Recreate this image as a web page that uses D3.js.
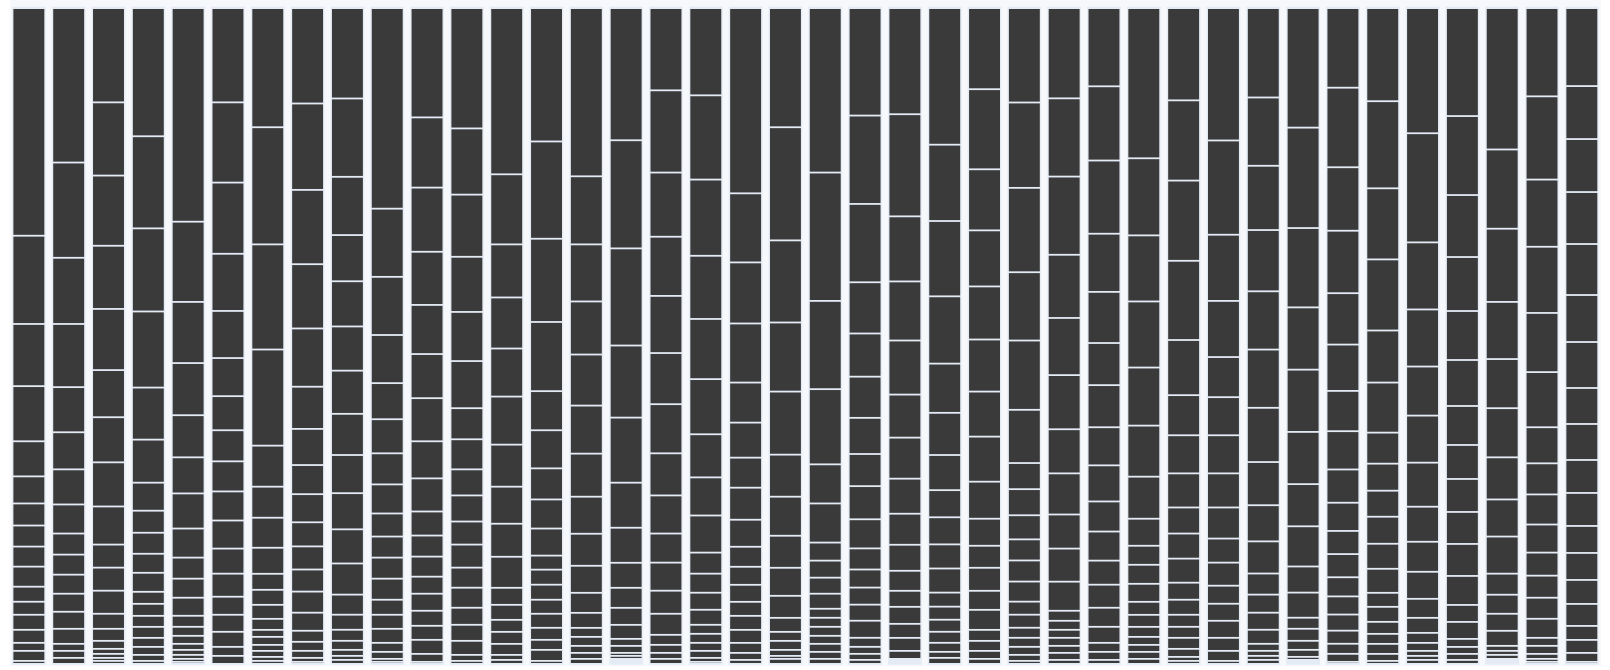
<!DOCTYPE html>
<html>
<head>
<meta charset="utf-8">
<script src="https://cdn.jsdelivr.net/npm/d3@7"></script>
<style>
html,body{margin:0;padding:0;background:#ffffff;overflow:hidden}
svg{display:block}
</style>
</head>
<body>
<svg id="chart" width="1610" height="670"></svg>
<script>
// Categories (one per column)
const categories = d3.range(1, 41).map(i => "Group " + i);

// Segment values per column, listed top to bottom
const g01 = [227, 88, 62, 55, 35, 27, 22, 21, 20, 20, 15, 13, 15, 13, 8, 10, 3];
const g02 = [154, 95, 66, 63, 45, 37, 35, 29, 21, 20, 19, 18, 17, 15, 7, 7, 6];
const g03 = [94, 73, 70, 63, 61, 47, 45, 44, 38, 23, 23, 23, 15, 12, 8, 5, 4, 3, 3];
const g04 = [128, 92, 83, 76, 52, 43, 28, 22, 21, 19, 19, 12, 12, 11, 11, 9, 8, 6, 3];
const g05 = [213, 80, 61, 52, 42, 36, 35, 29, 21, 19, 18, 11, 9, 8, 6, 5, 4, 3, 2];
const g06 = [94, 80, 71, 57, 47, 38, 34, 31, 30, 29, 28, 25, 23, 18, 17, 15, 9, 8];
const g07 = [119, 117, 105, 96, 41, 31, 30, 26, 16, 15, 14, 11, 7, 8, 6, 6, 4, 3];
const g08 = [95, 86, 74, 64, 58, 42, 36, 29, 28, 24, 23, 22, 21, 18, 11, 9, 7, 4, 2];
const g09 = [90, 78, 58, 46, 45, 44, 43, 41, 38, 36, 34, 31, 20, 15, 11, 9, 6, 4, 4];
const g10 = [200, 68, 58, 48, 36, 34, 31, 29, 23, 21, 21, 21, 15, 14, 14, 9, 7, 3, 2];
const g11 = [109, 70, 64, 53, 49, 44, 43, 37, 33, 24, 21, 20, 17, 17, 15, 14, 14, 8, 2];
const g12 = [120, 66, 62, 55, 49, 47, 31, 30, 26, 26, 23, 23, 20, 20, 17, 16, 14, 6, 3];
const g13 = [166, 70, 53, 51, 48, 48, 42, 37, 33, 31, 17, 15, 12, 12, 11, 5, 4];
const g14 = [133, 97, 83, 69, 39, 38, 31, 29, 27, 14, 15, 15, 14, 14, 12, 10, 11, 3];
const g15 = [168, 68, 57, 53, 51, 48, 43, 37, 32, 27, 20, 15, 9, 9, 7, 6, 5];
const g16 = [132, 108, 97, 72, 65, 45, 35, 25, 20, 17, 14, 7, 7, 3, 3, 1, 1, 1, 1, 1];
const g17 = [82, 82, 64, 59, 57, 51, 49, 42, 38, 29, 28, 23, 21, 10, 8, 6, 5];
const g18 = [87, 84, 76, 63, 60, 55, 43, 38, 37, 21, 19, 17, 15, 9, 9, 8, 7, 4, 2];
const g19 = [185, 69, 61, 59, 40, 35, 30, 32, 27, 20, 18, 17, 14, 14, 13, 10, 7, 4];
const g20 = [119, 113, 82, 69, 63, 42, 39, 32, 28, 22, 14, 9, 9, 6, 3, 5];
const g21 = [164, 128, 88, 75, 39, 39, 18, 17, 16, 15, 9, 9, 9, 8, 8, 7, 5];
const g22 = [107, 88, 78, 51, 43, 41, 36, 32, 33, 29, 21, 18, 17, 16, 17, 9, 7, 6, 4];
const g23 = [106, 102, 65, 59, 54, 43, 41, 35, 31, 26, 20, 16, 17, 14, 13, 8, 1, 1, 1, 1, 1];
const g24 = [136, 76, 75, 67, 49, 42, 35, 27, 27, 24, 24, 14, 13, 12, 11, 9, 6, 6];
const g25 = [81, 80, 61, 56, 53, 52, 45, 45, 37, 27, 22, 23, 19, 20, 11, 10, 8, 5];
const g26 = [94, 85, 84, 68, 69, 53, 26, 26, 24, 21, 21, 20, 13, 13, 10, 9, 8, 6, 3];
const g27 = [90, 78, 78, 63, 57, 54, 44, 41, 34, 33, 29, 10, 9, 8, 8, 7, 7, 4];
const g28 = [78, 74, 73, 58, 51, 42, 42, 38, 36, 30, 29, 24, 23, 19, 16, 9, 8, 4];
const g29 = [150, 77, 66, 66, 58, 51, 42, 27, 19, 19, 18, 13, 12, 10, 8, 7, 7, 5];
const g30 = [92, 80, 80, 79, 55, 40, 38, 34, 26, 25, 24, 17, 15, 12, 11, 11, 8, 4, 3];
const g31 = [132, 94, 66, 56, 40, 38, 38, 34, 31, 24, 23, 18, 17, 17, 13, 10, 3];
const g32 = [89, 68, 64, 61, 58, 58, 54, 43, 36, 32, 21, 18, 17, 14, 7, 5, 4, 4];
const g33 = [119, 100, 79, 62, 62, 52, 42, 40, 26, 25, 11, 12, 9, 7, 3, 1, 1, 1, 1];
const g34 = [79, 79, 63, 62, 51, 46, 40, 38, 33, 28, 23, 23, 19, 18, 16, 13, 10, 8, 2];
const g35 = [93, 87, 71, 71, 52, 50, 31, 27, 26, 27, 25, 24, 14, 15, 12, 10, 10, 7, 3];
const g36 = [125, 109, 67, 57, 49, 47, 44, 35, 30, 27, 19, 15, 10, 8, 5, 4, 4];
const g37 = [108, 79, 62, 54, 49, 46, 39, 34, 33, 32, 32, 29, 17, 17, 8, 7, 6, 4];
const g38 = [141, 79, 73, 57, 49, 49, 42, 37, 37, 21, 19, 17, 15, 5, 4, 4, 1, 1, 1, 1, 1];
const g39 = [88, 83, 67, 66, 59, 55, 36, 31, 30, 28, 23, 22, 21, 19, 8, 8, 5, 3, 2];
const g40 = [78, 53, 53, 52, 51, 47, 46, 36, 36, 33, 33, 27, 27, 24, 22, 14, 13, 9, 2];

const series = [g01, g02, g03, g04, g05, g06, g07, g08, g09, g10,
                g11, g12, g13, g14, g15, g16, g17, g18, g19, g20,
                g21, g22, g23, g24, g25, g26, g27, g28, g29, g30,
                g31, g32, g33, g34, g35, g36, g37, g38, g39, g40];

// Layout / style
const svg = d3.select("#chart");
const yTop = 9, yBottom = 663, gap = 1.8, inset = 1.4;
const x = d3.scaleBand()
  .domain(categories)
  .range([12, 1598.7])
  .paddingInner(0.153)
  .paddingOuter(0);

svg.append("rect")
  .attr("x", 10).attr("y", 0)
  .attr("width", 1591).attr("height", 666)
  .attr("fill", "#f6f8fb");

categories.forEach((c, i) => {
  const vals = series[i];
  const total = d3.sum(vals);
  const y = d3.scaleLinear().domain([0, total]).range([yTop - gap / 2, yBottom + gap / 2]);
  const ends = d3.cumsum(vals);
  const segs = vals.map((v, k) => ({ y0: ends[k] - v, y1: ends[k] }));

  const g = svg.append("g").attr("class", "column");
  g.append("rect")
    .attr("x", x(c)).attr("y", yTop - 2.3)
    .attr("width", x.bandwidth()).attr("height", yBottom - yTop + 4)
    .attr("fill", "#e5ebf5");

  g.selectAll("rect.seg")
    .data(segs)
    .join("rect")
    .attr("class", "seg")
    .attr("x", x(c) + inset)
    .attr("width", x.bandwidth() - 2 * inset)
    .attr("y", d => y(d.y0) + gap / 2)
    .attr("height", d => Math.max(0, y(d.y1) - y(d.y0) - gap))
    .attr("fill", "#3a3a3a");
});
</script>
</body>
</html>
